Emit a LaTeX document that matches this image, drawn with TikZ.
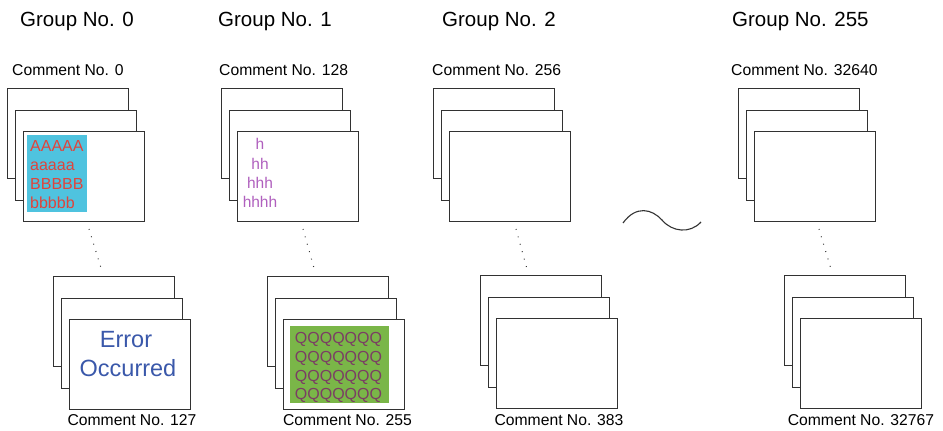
\documentclass[tikz,border=0pt]{standalone}
\usepackage{fontspec}
\setmainfont{Liberation Sans}
\definecolor{cyanfill}{RGB}{79,195,223}
\definecolor{redtxt}{RGB}{224,68,60}
\definecolor{greenfill}{RGB}{122,182,72}
\definecolor{qtxt}{RGB}{122,62,100}
\definecolor{htxt}{RGB}{176,96,190}
\definecolor{bluetxt}{RGB}{58,88,170}
\definecolor{edge}{RGB}{50,50,50}
\newcommand\mystack[3]{%
  \node[card] (#1a) at (#2,#3) {};
  \node[card] (#1b) at (#2+8,#3+22) {};
  \node[card] (#1c) at (#2+16,#3+43) {};
}
\begin{document}
\begin{tikzpicture}[x=1pt,y=-1pt,
  card/.style={draw=edge,line width=1.1pt,fill=white,minimum width=120.5pt,minimum height=89.5pt,anchor=north west,inner sep=0pt},
  title/.style={font=\fontsize{20.5}{24}\selectfont,anchor=base west,inner sep=0pt},
  cmt/.style={font=\fontsize{15.7}{18}\selectfont,anchor=base west,inner sep=0pt},
  cmtc/.style={font=\fontsize{15.7}{18}\selectfont,anchor=base,inner sep=0pt},
  line16/.style={font=\fontsize{16}{19}\selectfont,inner sep=0pt},
  dots/.style={line width=1pt,dash pattern=on 0.9pt off 6.8pt,draw=edge}]
\useasboundingbox (0,0) rectangle (943,431);
% titles
\node[title] (t0) at (20,26) {Group No. 0};
\node[title] (t1) at (218,26) {Group No. 1};
\node[title] (t2) at (442,26) {Group No. 2};
\node[title] (t3) at (732,26) {Group No. 255};
% top comment labels
\node[cmt] (c0) at (12,75) {Comment No. 0};
\node[cmt] (c128) at (219,75) {Comment No. 128};
\node[cmt] (c256) at (432,75) {Comment No. 256};
\node[cmt] (c32640) at (731,75) {Comment No. 32640};
% stacks
\mystack{s0}{7}{88}
\mystack{s1}{221}{88}
\mystack{s2}{433}{88}
\mystack{s3}{738}{88}
\mystack{u0}{53}{276}
\mystack{u1}{267}{276}
\mystack{u2}{480}{275}
\mystack{u3}{784}{275}
% group 0 contents
\node[fill=cyanfill,minimum width=60pt,minimum height=77pt,anchor=north west,inner sep=0pt] (cy) at (27,135) {};
\foreach \t/\y [count=\i] in {AAAAA/151,aaaaa/170,BBBBB/189,bbbbb/208}
  \node[line16,text=redtxt,anchor=base west] (r\i) at (30,\y) {\t};
% group 1 contents
\foreach \t/\y [count=\i] in {h/149,hh/169,hhh/188,hhhh/207}
  \node[line16,text=htxt,anchor=base,font=\fontsize{15.5}{18}\selectfont] (h\i) at (260,\y) {\t};
% error
\node[inner sep=0pt,anchor=base,text=bluetxt,font=\fontsize{23.5}{28}\selectfont] (e1) at (126,347) {Error};
\node[inner sep=0pt,anchor=base,text=bluetxt,font=\fontsize{23.5}{28}\selectfont] (e2) at (128,376) {Occurred};
% green Q
\node[fill=greenfill,minimum width=99pt,minimum height=77pt,anchor=north west,inner sep=0pt] (gr) at (290,326) {};
\foreach \y [count=\i] in {343,362,381,399}
  \node[line16,text=qtxt,anchor=base] (q\i) at (338.5,\y) {QQQQQQQ};
% bottom comment labels
\node[cmtc] (c127) at (132,425) {Comment No. 127};
\node[cmtc] (c255) at (347.5,425) {Comment No. 255};
\node[cmtc] (c383) at (559,425) {Comment No. 383};
\node[cmtc] (c32767) at (861,425) {Comment No. 32767};
% dotted connectors
\coordinate (d0a) at (89,229); \coordinate (d0b) at (101,268);
\coordinate (d1a) at (303,229); \coordinate (d1b) at (314,268);
\coordinate (d2a) at (516,229); \coordinate (d2b) at (527,269);
\coordinate (d3a) at (819,229); \coordinate (d3b) at (831,269);
\draw[dots] (d0a) -- (d0b);
\draw[dots] (d1a) -- (d1b);
\draw[dots] (d2a) -- (d2b);
\draw[dots] (d3a) -- (d3b);
% tilde
\coordinate (w0) at (623,223);
\coordinate (w1) at (662,220);
\coordinate (w2) at (701,222);
\draw[edge,line width=1.1pt] (w0) .. controls (636,205) and (652,209) .. (w1) .. controls (672,232) and (690,234) .. (w2);
\end{tikzpicture}
\end{document}
